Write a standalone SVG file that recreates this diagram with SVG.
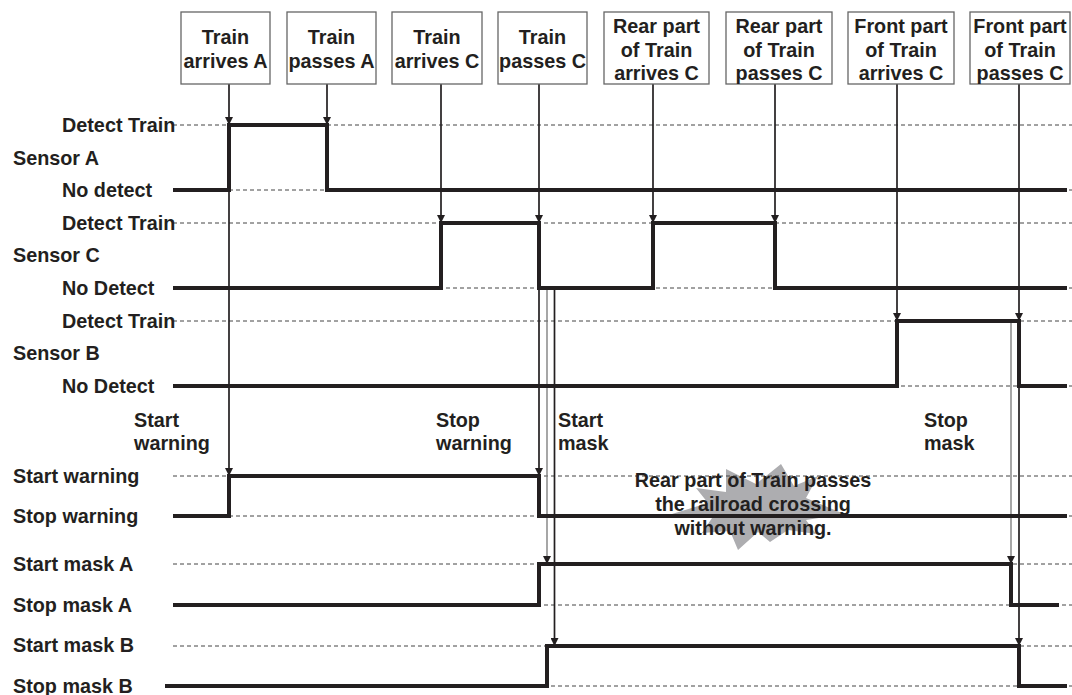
<svg xmlns="http://www.w3.org/2000/svg" width="1072" height="695" viewBox="0 0 1072 695">
<style>
text{font-family:"Liberation Sans",Arial,sans-serif;font-weight:bold;font-size:19.8px;fill:#231f20}
.c{text-anchor:middle}
.box{fill:#fff;stroke:#666;stroke-width:1.3}
.dash{stroke:#444;stroke-width:1;stroke-dasharray:4 3;fill:none}
.sig{stroke:#231f20;stroke-width:4;fill:none;stroke-linejoin:miter}
.arr{stroke:#231f20;stroke-width:1.7;fill:none;marker-end:url(#ah)}
.arrg{stroke:#777;stroke-width:1.3;fill:none;marker-end:url(#ah)}
</style>
<defs>
<marker id="ah" markerWidth="8" markerHeight="8" refX="8" refY="4" orient="auto" markerUnits="userSpaceOnUse"><path d="M0,0 L8,4 L0,8 z" fill="#231f20"/></marker>
</defs>
<rect width="1072" height="695" fill="#fff"/>

<g id="burst">
<polygon fill="#adadb0" points="781,464 794,486 818,476 806,498 844,514 806,520 816,534 788,530 770,542 758,532 738,550 730,531 702,533 712,518 672,514 708,503 696,488 726,492 726,469 756,484"/>
</g>

<g id="reference-lines">
<path class="dash" d="M173,125H1072M173,190H1072M173,223H1072M173,288H1072M173,321H1072M173,386H1072M173,476H1072M173,516H1072M173,564H1072M173,605H1072M173,646H1072M173,686H1072"/>
</g>

<g id="connectors">
<line class="arr" x1="229" y1="84" x2="229" y2="125"/>
<line class="arr" x1="229" y1="125" x2="229" y2="476"/>
<line class="arr" x1="327" y1="84" x2="327" y2="125"/>
<line class="arr" x1="441" y1="84" x2="441" y2="223"/>
<line class="arr" x1="539" y1="84" x2="539" y2="223"/>
<line class="arr" x1="539" y1="223" x2="539" y2="476"/>
<line class="arrg" x1="547" y1="288" x2="547" y2="564"/>
<line class="arr" x1="554.5" y1="288" x2="554.5" y2="646"/>
<line class="arr" x1="653" y1="84" x2="653" y2="223"/>
<line class="arr" x1="775" y1="84" x2="775" y2="223"/>
<line class="arr" x1="897" y1="84" x2="897" y2="321"/>
<line class="arr" x1="1019" y1="84" x2="1019" y2="321"/>
<line class="arr" x1="1019" y1="321" x2="1019" y2="646"/>
<line class="arrg" x1="1011" y1="321" x2="1011" y2="564"/>
</g>

<g id="sensor-a">
<polyline class="sig" points="173,190 229,190 229,125 327,125 327,190 1067,190"/>
<text x="62" y="132">Detect Train</text>
<text x="13" y="165">Sensor A</text>
<text x="62" y="197">No detect</text>
</g>
<g id="sensor-c">
<polyline class="sig" points="173,288 441,288 441,223 539,223 539,288 653,288 653,223 775,223 775,288 1067,288"/>
<text x="62" y="230">Detect Train</text>
<text x="13" y="262">Sensor C</text>
<text x="62" y="295">No Detect</text>
</g>
<g id="sensor-b">
<polyline class="sig" points="173,386 897,386 897,321 1019,321 1019,386 1067,386"/>
<text x="62" y="328">Detect Train</text>
<text x="13" y="360">Sensor B</text>
<text x="62" y="393">No Detect</text>
</g>
<g id="warning">
<polyline class="sig" points="173,516 229,516 229,476 539,476 539,516 1067,516"/>
<text x="13" y="483">Start warning</text>
<text x="13" y="523">Stop warning</text>
</g>
<g id="mask-a">
<polyline class="sig" points="173,605 539,605 539,564 1011,564 1011,605 1059,605"/>
<text x="13" y="571">Start mask A</text>
<text x="13" y="612">Stop mask A</text>
</g>
<g id="mask-b">
<polyline class="sig" points="165,686 547,686 547,646 1019,646 1019,686 1067,686"/>
<text x="13" y="652">Start mask B</text>
<text x="13" y="693">Stop mask B</text>
</g>

<g id="box-train-arrives-a"><rect class="box" x="181" y="12" width="89" height="72"/><text class="c" x="225.5" y="44">Train</text><text class="c" x="225.5" y="68">arrives A</text></g>
<g id="box-train-passes-a"><rect class="box" x="287" y="12" width="89" height="72"/><text class="c" x="331.5" y="44">Train</text><text class="c" x="331.5" y="68">passes A</text></g>
<g id="box-train-arrives-c"><rect class="box" x="392" y="12" width="90" height="72"/><text class="c" x="437" y="44">Train</text><text class="c" x="437" y="68">arrives C</text></g>
<g id="box-train-passes-c"><rect class="box" x="498" y="12" width="89" height="72"/><text class="c" x="542.5" y="44">Train</text><text class="c" x="542.5" y="68">passes C</text></g>
<g id="box-rear-arrives-c"><rect class="box" x="604" y="12" width="105" height="72"/><text class="c" x="656.5" y="33">Rear part</text><text class="c" x="656.5" y="56.5">of Train</text><text class="c" x="656.5" y="80">arrives C</text></g>
<g id="box-rear-passes-c"><rect class="box" x="726" y="12" width="106" height="72"/><text class="c" x="779" y="33">Rear part</text><text class="c" x="779" y="56.5">of Train</text><text class="c" x="779" y="80">passes C</text></g>
<g id="box-front-arrives-c"><rect class="box" x="848" y="12" width="106" height="72"/><text class="c" x="901" y="33">Front part</text><text class="c" x="901" y="56.5">of Train</text><text class="c" x="901" y="80">arrives C</text></g>
<g id="box-front-passes-c"><rect class="box" x="970" y="12" width="100" height="72"/><text class="c" x="1020" y="33">Front part</text><text class="c" x="1020" y="56.5">of Train</text><text class="c" x="1020" y="80">passes C</text></g>

<g id="event-labels">
<text x="134" y="427">Start</text><text x="134" y="450">warning</text>
<text x="436" y="427">Stop</text><text x="436" y="450">warning</text>
<text x="558" y="427">Start</text><text x="558" y="450">mask</text>
<text x="924" y="427">Stop</text><text x="924" y="450">mask</text>
</g>

<g id="note">
<text class="c" x="753" y="487">Rear part of Train passes</text>
<text class="c" x="753" y="511">the railroad crossing</text>
<text class="c" x="753" y="535">without warning.</text>
</g>
</svg>
